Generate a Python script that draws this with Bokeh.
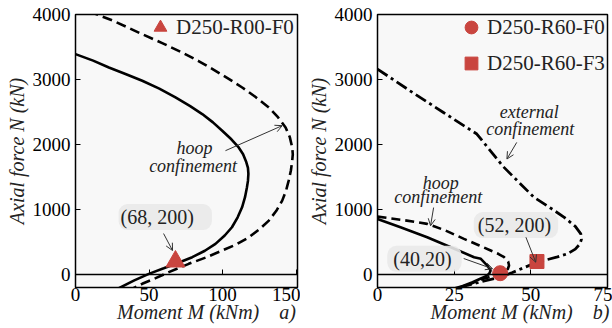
from bokeh.plotting import figure
from bokeh.models import (Label, Arrow, OpenHead, Legend, LegendItem, LinearAxis,
                          FixedTicker, Range1d)
from bokeh.layouts import row
from bokeh.embed import file_html
from bokeh.resources import INLINE

FONT = "Liberation Serif"
RED = "#c9453f"
NB = "\u00a0"

# ---------------- data: panel a (D250-R00-F0) ----------------
a_hoop_M = [0, 12, 22.7, 34, 45.4, 57, 68, 78, 86.2, 93.5, 99.8, 106, 111, 114, 116, 117.3,
            117.6, 117.3, 116.6, 115.3, 113.3, 110.3, 106.4, 101.5, 95.2, 88, 79.4, 70, 60,
            49.9, 40, 29.5, 27]
a_hoop_N = [3390, 3290, 3185, 3085, 2980, 2860, 2724, 2590, 2468, 2340, 2212, 2080, 1955, 1850,
            1740, 1640, 1547, 1440, 1340, 1190, 1034, 880, 727, 600, 471, 365, 266, 180, 95,
            10, -90, -210, -240]
a_conf_M = [9, 26, 45.4, 59, 72.6, 84, 95.2, 104.5, 113.4, 122.5, 131.5, 137.7, 142.9, 145.8,
            147.4, 147.8, 147.4, 146.5, 145, 143.2, 140.6, 136.6, 131.5, 125.3, 118, 109.6,
            99.8, 88.7, 77, 63.5, 54.5, 45.4, 39]
a_conf_N = [4050, 3900, 3697, 3560, 3415, 3280, 3134, 3005, 2877, 2730, 2570, 2420, 2263, 2110,
            1955, 1850, 1750, 1600, 1444, 1290, 1137, 980, 829, 700, 573, 465, 369, 262, 164,
            36, -55, -143, -215]
a_test_M = [68]
a_test_N = [200]
a_xticks = [0, 50, 100, 150]
yticks = [0, 1000, 2000, 3000, 4000]

# ---------------- data: panel b (D250-R60) ----------------
b_hoop_M = [0, 7.5, 16.2, 23.9, 31.5, 33.7, 35.8, 36.9, 36.4, 35.2, 33.7, 31, 27, 25]
b_hoop_N = [855, 727, 573, 419, 266, 241, 138, 61, 10, -30, -61, -120, -190, -215]
b_hconf_M = [0, 8, 16.2, 22, 28.2, 33, 36.9, 39.5, 41.3, 42.6, 42.9, 42.5, 41.3, 38.5, 35,
             31.5, 28]
b_hconf_N = [890, 840, 779, 680, 548, 450, 369, 315, 266, 200, 138, 85, 36, -10, -60, -120,
             -195]
b_ext_M = [0, 10.6, 21.5, 32.4, 41, 51, 56.5, 60.9, 64.5, 66.3, 66.5, 66, 64.5, 62, 58.7, 55,
           51, 47.5, 44, 40, 34, 27]
b_ext_N = [3160, 2826, 2493, 2161, 1660, 1188, 1020, 880, 740, 625, 540, 470, 390, 320, 270,
           225, 170, 100, 30, -40, -110, -195]
b_f0_M = [40]
b_f0_N = [20]
b_f3_M = [52]
b_f3_N = [200]
b_xticks = [0, 25, 50, 75]


def base_fig(width, xr, xticks, border_left, border_right, xlabel):
    p = figure(width=width, height=328, x_range=Range1d(*xr), y_range=Range1d(-200, 4000),
               output_backend="svg", toolbar_location=None,
               min_border_left=border_left, min_border_right=border_right,
               min_border_top=14, min_border_bottom=41)
    p.background_fill_color = "#f8f8f8"
    p.border_fill_color = "white"
    p.outline_line_color = "black"
    p.outline_line_width = 1.5
    p.grid.visible = False
    for ax in (p.xaxis[0], p.yaxis[0]):
        ax.axis_line_color = None
        ax.minor_tick_line_color = None
        ax.major_label_text_font = FONT
        ax.major_label_text_font_size = "19px"
        ax.major_label_text_color = "black"
        ax.axis_label_text_font = FONT
        ax.axis_label_text_font_style = "italic"
        ax.axis_label_text_font_size = "20px"
        ax.axis_label_text_color = "#222222"
    p.xaxis[0].ticker = FixedTicker(ticks=xticks)
    p.xaxis[0].major_tick_in = 0
    p.xaxis[0].major_tick_out = 0
    p.xaxis[0].major_label_standoff = 0
    p.xaxis[0].axis_label_standoff = -3
    p.xaxis[0].axis_label = xlabel
    p.yaxis[0].ticker = FixedTicker(ticks=yticks)
    p.yaxis[0].major_tick_in = 5
    p.yaxis[0].major_tick_out = 0
    p.yaxis[0].major_tick_line_color = "black"
    p.yaxis[0].major_label_standoff = 5
    p.yaxis[0].axis_label_standoff = 2
    p.yaxis[0].axis_label = "Axial force N (kN)"
    # zero axial-force line with its ticks
    zero = LinearAxis(fixed_location=0, ticker=FixedTicker(ticks=xticks),
                      major_tick_in=5, major_tick_out=0, minor_tick_line_color=None,
                      major_label_text_color=None, axis_line_width=1.3,
                      axis_line_color="black", major_tick_line_color="black")
    p.add_layout(zero, "below")
    return p


def txt(p, x, y, s, size="18px", style="italic", align="center", **kw):
    p.add_layout(Label(x=x, y=y, text=s, text_font=FONT, text_font_size=size,
                       text_font_style=style, text_align=align, text_baseline="middle",
                       text_color="#222222", **kw))


def coord(p, x, y, s, pad):
    p.add_layout(Label(x=x, y=y, text=s, text_font=FONT, text_font_size="20px",
                       text_align="left", text_baseline="middle", text_color="#222222",
                       background_fill_color="#e9e9e9", background_fill_alpha=0.9,
                       padding=pad, border_radius=9))


def arrow(p, x0, y0, x1, y1):
    p.add_layout(Arrow(end=OpenHead(size=7, line_width=1, line_color="#333333"),
                       x_start=x0, y_start=y0, x_end=x1, y_end=y1,
                       line_width=1, line_color="#333333"))


def legend(items, label_width):
    return Legend(items=items, location="top_right", glyph_width=32, glyph_height=36,
                  label_standoff=0, label_width=label_width, padding=0, margin=-5,
                  spacing=-17, border_line_color=None, background_fill_alpha=0,
                  label_text_font=FONT, label_text_font_size="21px",
                  label_text_color="#222222")


# ---------------- panel a ----------------
p1 = base_fig(300, (0, 151), a_xticks, 75, 3, NB * 8 + "Moment M (kNm)" + NB * 4 + "a)")
p1.line(a_hoop_M, a_hoop_N, line_color="black", line_width=2.6)
p1.line(a_conf_M, a_conf_N, line_color="black", line_width=2.6, line_dash="10 5")
tri = p1.scatter(a_test_M, a_test_N, marker="triangle", size=19, fill_color=RED,
                 line_color=RED)
txt(p1, 81, 1950, "hoop")
txt(p1, 80, 1674, "confinement")
arrow(p1, 102, 1905, 140.6, 2290)
coord(p1, 29.3, 883, "(68, 200)", (2, 18, 2, 2))
arrow(p1, 59.9, 630, 66, 369)
p1.add_layout(legend([LegendItem(label="D250-R00-F0", renderers=[tri])], 126))

# ---------------- panel b ----------------
p2 = base_fig(312, (0, 75), b_xticks, 77, 5, NB * 11 + "Moment M (kNm)" + NB * 4 + "b)")
p2.line(b_hoop_M, b_hoop_N, line_color="black", line_width=2.6)
p2.line(b_hconf_M, b_hconf_N, line_color="black", line_width=2.6, line_dash="9 5")
p2.line(b_ext_M, b_ext_N, line_color="black", line_width=2.8, line_dash="12 4 3 4")
circ = p2.scatter(b_f0_M, b_f0_N, marker="circle", size=15, fill_color=RED, line_color=RED)
sq = p2.scatter(b_f3_M, b_f3_N, marker="square", size=14, fill_color=RED, line_color=RED)
txt(p2, 49.5, 2496, "external")
txt(p2, 49.8, 2238, "confinement")
arrow(p2, 45.4, 2032, 42.2, 1777)
txt(p2, 20.6, 1405, "hoop")
txt(p2, 19.8, 1187, "confinement")
arrow(p2, 18.3, 1030, 17.3, 750)
coord(p2, 3.2, 241, "(40,20)", (6, 10, 2, 2))
arrow(p2, 28.1, 246, 37.5, 88)
coord(p2, 31.4, 760, "(52, 200)", (4, 7, 2, 2))
arrow(p2, 48.4, 573, 51.6, 189)
p2.add_layout(legend([LegendItem(label="D250-R60-F0", renderers=[circ]),
                      LegendItem(label="D250-R60-F3", renderers=[sq])], 125))

layout = row(p1, p2)
open("out.html", "w").write(file_html(layout, INLINE))
